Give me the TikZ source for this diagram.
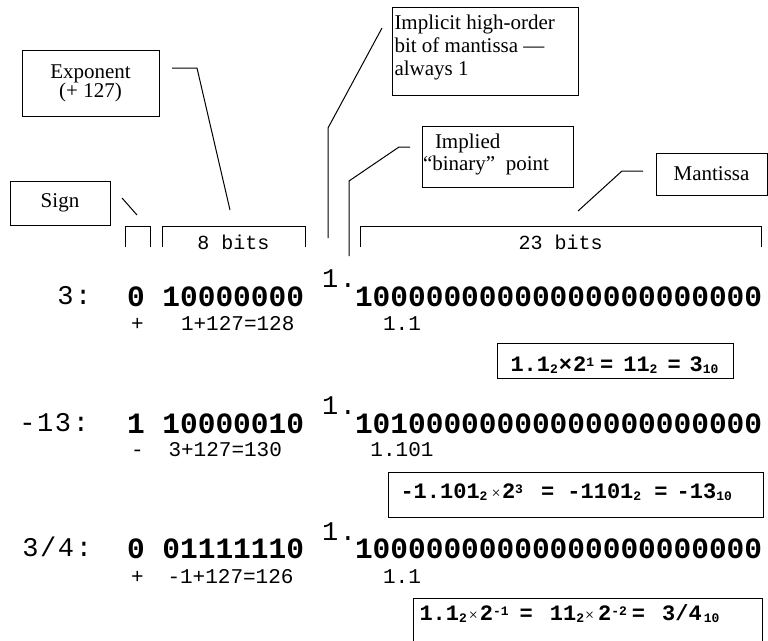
\documentclass[tikz,border=0pt]{standalone}
\usepackage{fontspec}
\setmainfont{Liberation Serif}
\setmonofont{Liberation Mono}
\newfontfamily\labfont[LetterSpace=6]{Liberation Mono}
\newcommand\lo[1]{\raisebox{-2pt}{\fontsize{13}{13}\selectfont #1}}
\newcommand\hi[1]{\raisebox{5pt}{\fontsize{13}{13}\selectfont #1}}
\newcommand\tx{{\rmfamily\mdseries\fontsize{16}{16}\selectfont ×}}
\tikzset{
  every node/.style={inner sep=0pt, outer sep=0pt},
  lbox/.style={draw, line width=1pt, font=\fontsize{21}{23}\selectfont},
  ebox/.style={draw, line width=1pt, anchor=north west},
  serif/.style={font=\fontsize{21}{23}\selectfont, align=left},
  rowlab/.style={font=\labfont\fontsize{27}{27}\selectfont, anchor=base west},
  bitstr/.style={font=\ttfamily\bfseries\fontsize{29.5}{29.5}\selectfont, anchor=base west},
  note/.style={font=\ttfamily\fontsize{21}{21}\selectfont},
  bitlab/.style={font=\ttfamily\fontsize{20}{20}\selectfont, anchor=base},
  eqtext/.style={font=\ttfamily\bfseries\fontsize{22}{22}\selectfont, anchor=base west},
  lead/.style={line width=1pt},
}
\begin{document}
\begin{tikzpicture}[x=1pt,y=-1pt]
\useasboundingbox (0,0) rectangle (768,640);

% label boxes
\node[lbox, minimum width=100pt, minimum height=44pt] (sign) at (60,203) {Sign};
\node[lbox, align=center, minimum width=137pt, minimum height=66pt, font=\fontsize{21}{19.5}\selectfont] (expo) at (90.5,83.5) {Exponent\\(+ 127)};
\node[lbox, minimum width=186pt, minimum height=88pt, anchor=north west] (implicit) at (392,7) {};
\node[serif, anchor=north west] (implicittext) at (394.5,14.5) {Implicit high-order\\bit of mantissa —\\always 1};
\node[lbox, minimum width=151pt, minimum height=61pt, anchor=north west] (implied) at (422,126) {};
\node[serif, anchor=north west, font=\fontsize{21}{22}\selectfont] (impliedtext) at (423,133.5) {\hspace*{12pt}Implied\\“binary”\ \ point};
\node[lbox, minimum width=111pt, minimum height=42pt] (mant) at (711.5,174) {Mantissa};

% leaders
\coordinate (sA) at (122,198); \coordinate (sB) at (137,215);
\draw[lead] (sA) -- (sB);
\coordinate (eA) at (172,68); \coordinate (eB) at (197,68); \coordinate (eC) at (230,210);
\draw[lead] (eA) -- (eB) -- (eC);
\coordinate (iA) at (382,28); \coordinate (iB) at (328,128); \coordinate (iC) at (328,238);
\draw[lead] (iA) -- (iB) -- (iC);
\coordinate (pA) at (410,147); \coordinate (pB) at (399,147); \coordinate (pC) at (349,181); \coordinate (pD) at (349,256);
\draw[lead] (pA) -- (pB) -- (pC) -- (pD);
\coordinate (mA) at (643,171); \coordinate (mB) at (622,171); \coordinate (mC) at (578,211);
\draw[lead] (mA) -- (mB) -- (mC);

% brackets
\draw[lead] (125,247) -- (125,226) -- (150,226) -- (150,247);
\draw[lead] (162,247) -- (162,226) -- (305,226) -- (305,247);
\draw[lead] (360,247) -- (360,226) -- (761,226) -- (761,247);
\node[bitlab] (b8) at (233.5,249) {8 bits};
\node[bitlab] (b23) at (560.5,249) {23 bits};

% row 1
\node[rowlab] (l1) at (57.3,304) {3:};
\node[bitstr] (e1) at (127,306) {0 10000000};
\node[rowlab] (h1) at (322,287.5) {1.};
\node[bitstr] (m1) at (355,306) {10000000000000000000000};
\node[note, anchor=base] (sg1) at (137.5,330) {+};
\node[note, anchor=base west] (x1) at (181,330) {1+127=128};
\node[note, anchor=base] (f1) at (402,330) {1.1};
\node[ebox, minimum width=236pt, minimum height=35pt] (q1) at (497,343) {};
\node[eqtext] (q1t) at (510.5,371) {1.1\lo{2}\hspace{1pt}×\hspace{1pt}2\hi{1}\hspace{6pt}=\hspace{10pt}11\lo{2}\hspace{10pt}=\hspace{9pt}3\lo{10}};

% row 2
\node[rowlab] (l2) at (19.3,431.5) {-13:};
\node[bitstr] (e2) at (127,433) {1 10000010};
\node[rowlab] (h2) at (322,414) {1.};
\node[bitstr] (m2) at (355,433) {10100000000000000000000};
\node[note, anchor=base] (sg2) at (137.5,456) {-};
\node[note, anchor=base west] (x2) at (168.5,456) {3+127=130};
\node[note, anchor=base] (f2) at (402,456) {1.101};
\node[ebox, minimum width=375pt, minimum height=45pt] (q2) at (388,472) {};
\node[eqtext] (q2t) at (400.5,498) {-1.101\lo{2}\hspace{4pt}\tx\hspace{1.5pt}2\hi{3}\hspace{18pt}=\hspace{13.2pt}-1101\lo{2}\hspace{13.2pt}=\hspace{9pt}-13\lo{10}};

% row 3
\node[rowlab] (l3) at (22.3,556.5) {3/4:};
\node[bitstr] (e3) at (127,558) {0 01111110};
\node[rowlab] (h3) at (322,540) {1.};
\node[bitstr] (m3) at (355,558) {10000000000000000000000};
\node[note, anchor=base] (sg3) at (137.5,583) {+};
\node[note, anchor=base west] (x3) at (167.5,583) {-1+127=126};
\node[note, anchor=base] (f3) at (402,583) {1.1};
\draw[lead] (413,642) -- (413,598) -- (762,598) -- (762,642);
\node[eqtext] (q3t) at (419.5,620) {1.1\lo{2}\hspace{2pt}\tx\hspace{2pt}2\hi{-1}\hspace{11pt}=\hspace{17pt}11\lo{2}\hspace{1pt}\tx\hspace{4pt}2\hi{-2}\hspace{5pt}=\hspace{17pt}3/4\hspace{2pt}\lo{10}};
\end{tikzpicture}
\end{document}
